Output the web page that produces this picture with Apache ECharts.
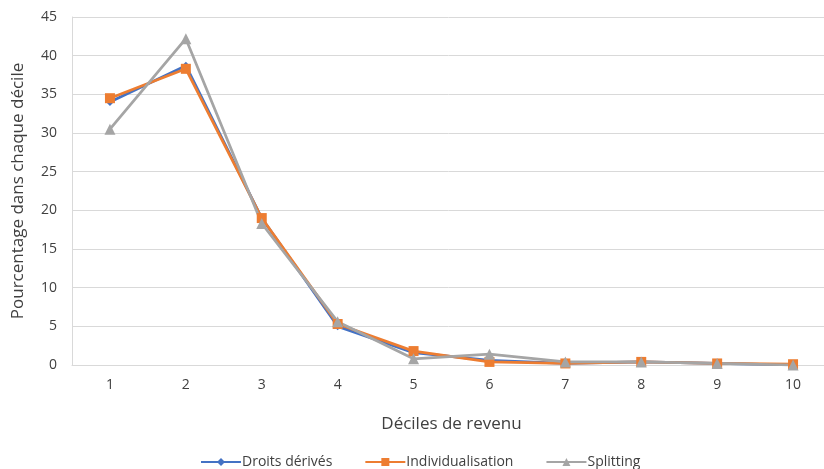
<!DOCTYPE html>
<html>
<head>
<meta charset="utf-8">
<script src="https://cdn.jsdelivr.net/npm/echarts@6/dist/echarts.min.js"></script>
<style>
  html, body { margin: 0; padding: 0; background: #fff; }
  #chart { width: 824px; height: 469px; }
</style>
</head>
<body>
<div id="chart"></div>
<script>
// Income deciles
const deciles = ['1', '2', '3', '4', '5', '6', '7', '8', '9', '10'];

// Share of each scenario falling in each decile (%)
const droitsDerives     = [34.0, 38.7, 19.0, 5.0, 1.6, 0.6, 0.2, 0.4, 0.2, 0.0];
const individualisation = [34.5, 38.3, 19.0, 5.3, 1.8, 0.4, 0.2, 0.4, 0.2, 0.1];
const splitting         = [30.5, 42.2, 18.3, 5.6, 0.8, 1.4, 0.4, 0.4, 0.2, 0.0];

const yTicks = { min: 0, max: 45, interval: 5 };

const FONT = '"Open Sans", sans-serif';
const TXT = '#404040';

const chart = echarts.init(document.getElementById('chart'), null, { renderer: 'canvas' });

function lineSeries(name, data, color, symbol, size) {
  return {
    name, type: 'line', data,
    symbol, symbolSize: size,
    lineStyle: { color, width: 2.75 },
    itemStyle: { color },
    emphasis: { disabled: true },
    animation: false
  };
}

chart.setOption({
  animation: false,
  grid: {
    left: 72, right: -7, top: 17, bottom: 104,
    containLabel: false,
    outerBoundsMode: 'none'
  },
  xAxis: {
    type: 'category',
    data: deciles,
    boundaryGap: true,
    name: 'Déciles de revenu',
    nameLocation: 'middle',
    nameGap: 51,
    nameTextStyle: { color: TXT, fontSize: 17, fontFamily: FONT },
    axisLine: { lineStyle: { color: '#d9d9d9', width: 1 } },
    axisTick: { show: false },
    axisLabel: { color: TXT, fontSize: 14, fontFamily: FONT, margin: 13 }
  },
  yAxis: {
    type: 'value',
    min: yTicks.min, max: yTicks.max, interval: yTicks.interval,
    name: 'Pourcentage dans chaque décile',
    nameLocation: 'middle',
    nameGap: 45,
    nameTextStyle: { color: TXT, fontSize: 17, fontFamily: FONT },
    axisLine: { show: true, lineStyle: { color: '#d9d9d9', width: 1 } },
    axisTick: { show: false },
    axisLabel: { color: TXT, fontSize: 14, fontFamily: FONT, margin: 15 },
    splitLine: { lineStyle: { color: '#d9d9d9', width: 1 } }
  },
  legend: {
    bottom: -5,
    left: 195,
    itemWidth: 40,
    itemHeight: 10,
    itemGap: 32,
    textStyle: { color: TXT, fontSize: 14, fontFamily: FONT, padding: [0, 0, 0, -4] },
    data: ['Droits dérivés', 'Individualisation', 'Splitting']
  },
  series: [
    lineSeries('Droits dérivés', droitsDerives, '#4472C4', 'diamond', 8),
    lineSeries('Individualisation', individualisation, '#ED7D31', 'rect', 10),
    lineSeries('Splitting', splitting, '#A5A5A5', 'triangle', 11)
  ]
});
</script>
</body>
</html>
